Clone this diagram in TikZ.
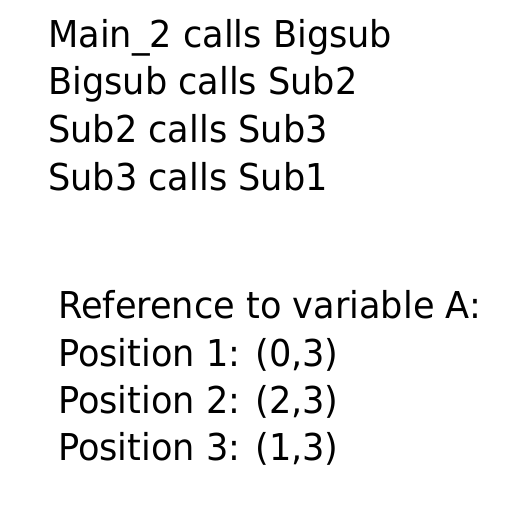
\documentclass[tikz,border=0pt]{standalone}
\usepackage{fontspec}
\setmainfont{DejaVu Sans}
\newfontfamily\tfont[FakeStretch=0.95]{DejaVu Sans}
\begin{document}
\begin{tikzpicture}[x=1pt,y=1pt,
  textline/.style={anchor=base west,inner sep=0pt,font=\tfont\fontsize{37}{44}\selectfont}]
\useasboundingbox[fill=white] (0,0) rectangle (518,-504);
\node[textline] (c1) at (48,-47) {Main\_2 calls Bigsub};
\node[textline] (c2) at (48,-94.7) {Bigsub calls Sub2};
\node[textline] (c3) at (48,-142.3) {Sub2 calls Sub3};
\node[textline] (c4) at (48,-190) {Sub3 calls Sub1};
\node[textline] (r0) at (58,-318.5) {Reference to variable A:};
\node[textline] (r1) at (58,-366) {Position 1: (0,3)};
\node[textline] (r2) at (58,-413) {Position 2: (2,3)};
\node[textline] (r3) at (58,-460) {Position 3: (1,3)};
\end{tikzpicture}
\end{document}
